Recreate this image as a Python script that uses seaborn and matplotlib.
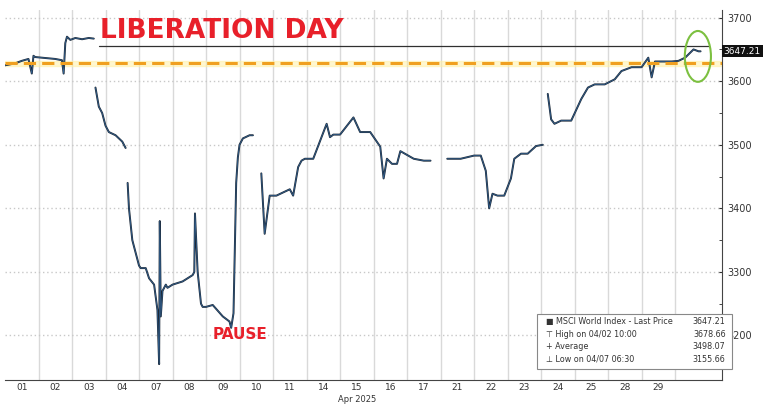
import matplotlib
matplotlib.use("Agg")
import matplotlib.pyplot as plt
import numpy as np
import seaborn as sns
from matplotlib.patches import Ellipse, Rectangle

# trading days shown on the axis
days = ["01", "02", "03", "04", "07", "08", "09", "10", "11", "14",
        "15", "16", "17", "21", "22", "23", "24", "25", "28", "29"]

# intraday path: position in trading days, price (nan = gap)
t = [0.0, 0.3, 0.5, 0.7, 0.8, 0.85, 0.9, 1.1, 1.3, 1.5, 1.7, 1.75, 1.8, 1.85, 1.95, 2.1, 2.3, 2.5, 2.65,
     2.65, 2.7, 2.8, 2.9, 3.0, 3.1, 3.3, 3.5, 3.6, 3.65,
     3.66, 3.7, 3.8, 3.9, 4.0, 4.05, 4.2, 4.3, 4.45, 4.55, 4.6, 4.62, 4.65, 4.7, 4.8, 4.85, 5.0, 5.3, 5.6, 5.65,
     5.67, 5.75, 5.85, 5.9, 6.0, 6.2, 6.5, 6.7, 6.75, 6.82, 6.9, 6.95, 7.0, 7.1, 7.3, 7.4,
     7.55, 7.65, 7.75, 7.9, 8.1, 8.3, 8.5, 8.6, 8.75, 8.85, 8.95, 9.2, 9.6, 9.7, 9.8, 10.0, 10.4, 10.6, 10.7,
     10.9, 11.2, 11.3, 11.4, 11.55, 11.7, 11.8, 12.2, 12.5, 12.7, 13.0, 13.2, 13.6, 14.0, 14.2, 14.35,
     14.45, 14.55, 14.7, 14.9, 15.1, 15.2, 15.4, 15.6, 15.85, 16.05, 16.1,
     16.2, 16.3, 16.4, 16.6, 16.9, 17.2, 17.4, 17.6, 17.9, 18.2, 18.4, 18.7, 19.0, 19.2, 19.3, 19.4, 19.6,
     19.9, 20.1, 20.3, 20.55, 20.7, 20.76]
price = [3625, 3628, 3632, 3635, 3612, 3640, 3638, 3637, 3636, 3635, 3633, 3612, 3660, 3670, 3665, 3668, 3666, 3668, 3667,
         np.nan, 3590, 3560, 3550, 3530, 3520, 3515, 3505, 3495, np.nan,
         3440, 3400, 3350, 3330, 3310, 3306, 3306, 3290, 3280, 3240, 3155, 3380, 3230, 3270, 3280, 3275, 3280, 3285, 3295, 3300,
         3392, 3300, 3250, 3245, 3245, 3248, 3230, 3222, 3212, 3235, 3440, 3480, 3500, 3510, 3515, 3515,
         np.nan, 3455, 3360, 3420, 3420, 3425, 3430, 3420, 3465, 3475, 3478, 3478, 3533, 3512, 3516, 3516, 3543, 3520, 3520,
         3520, 3497, 3447, 3478, 3470, 3470, 3490, 3478, 3475, 3475, np.nan, 3478, 3478, 3483, 3483, 3459,
         3400, 3423, 3420, 3420, 3447, 3478, 3486, 3486, 3498, 3500, np.nan,
         3580, 3540, 3533, 3538, 3538, 3572, 3590, 3595, 3595, 3603, 3616, 3622, 3622, 3637, 3606, 3631, 3631,
         3631, 3632, 3637, 3650, 3647, 3647]

last_price = 3647.21
ref_level = 3628
title_level = 3655

sns.set_style("white")
plt.rcParams["font.family"] = ["DejaVu Sans"]

fig = plt.figure(figsize=(7.67, 4.04), dpi=100)
ax = fig.add_axes([5 / 767, 24 / 404, 717 / 767, 370 / 404])

ax.plot(t, price, color="#1c2836", lw=1.4, zorder=3)
ax.plot(t, price, color="#3f7fc0", lw=0.5, alpha=0.7, zorder=4)

ax.set_xlim(0, 21.4)
ax.set_ylim(3130, 3712)

for i in range(1, 21):
    ax.axvline(i, color="#d9d9d9", lw=1.0, zorder=1)
for v in [3200, 3300, 3400, 3500, 3600, 3700]:
    ax.axhline(v, color="#c8c8c8", lw=1.0, ls=(0, (1, 2)), zorder=1)

ax.axhline(ref_level, color="#f0a020", lw=2.2, ls=(0, (4, 2)), zorder=5)
ax.axhspan(ref_level - 4, ref_level + 4, color="#fff0a0", alpha=0.5, zorder=2)
ax.plot([2.8, 21.0], [title_level, title_level], color="#303030", lw=0.9, zorder=5)
ax.add_patch(Ellipse((20.68, 3639), 0.78, 80, fill=False, ec="#7cc040", lw=1.5, zorder=6))

ax.text(2.85, title_level + 3, "LIBERATION DAY", color="#e8202a", fontsize=19,
        fontweight="bold", va="bottom", ha="left", zorder=6)
ax.text(6.2, 3195, "PAUSE", color="#e8202a", fontsize=11, fontweight="bold", zorder=6)

ax.set_xticks([i + 0.5 for i in range(len(days))])
ax.set_xticklabels(days, fontsize=6.5, color="#333333")
ax.yaxis.tick_right()
ax.set_yticks([3200, 3300, 3400, 3500, 3600, 3700])
ax.set_yticks([3150, 3250, 3350, 3450, 3550, 3650], minor=True)
ax.tick_params(axis="y", labelsize=7, colors="#333333", length=3, direction="in")
ax.tick_params(axis="y", which="minor", length=2, direction="in")
ax.tick_params(axis="x", length=0, pad=2)
fig.text(ax.get_position().x0 + ax.get_position().width * 10.5 / 21.4, 0.5 / 404, "Apr 2025",
         fontsize=6, ha="center", va="bottom", color="#333333")
for s in ["top", "left"]:
    ax.spines[s].set_visible(False)
ax.spines["right"].set_color("#444444")
ax.spines["bottom"].set_color("#444444")

ax.text(21.45, last_price, "3647.21", fontsize=6.5, color="white", va="center", ha="left",
        bbox=dict(boxstyle="square,pad=0.2", fc="#111111", ec="none"), zorder=7, clip_on=False)

# legend box
ax.add_patch(Rectangle((0.742, 0.03), 0.272, 0.148, transform=ax.transAxes, fc="white",
                       ec="#888888", lw=0.8, zorder=7, clip_on=False))
rows = [("\u25a0 MSCI World Index - Last Price", "3647.21"),
        ("\u22a4 High on 04/02 10:00", "3678.66"),
        ("+ Average", "3498.07"),
        ("\u22a5 Low on 04/07 06:30", "3155.66")]
for k, (lab, val) in enumerate(rows):
    y = 0.158 - k * 0.034
    ax.text(0.755, y, lab, transform=ax.transAxes, fontsize=5.8, color="#333333", va="center", zorder=8)
    ax.text(1.005, y, val, transform=ax.transAxes, fontsize=5.8, color="#333333", va="center",
            ha="right", zorder=8)

fig.savefig("out.png", dpi=100)
